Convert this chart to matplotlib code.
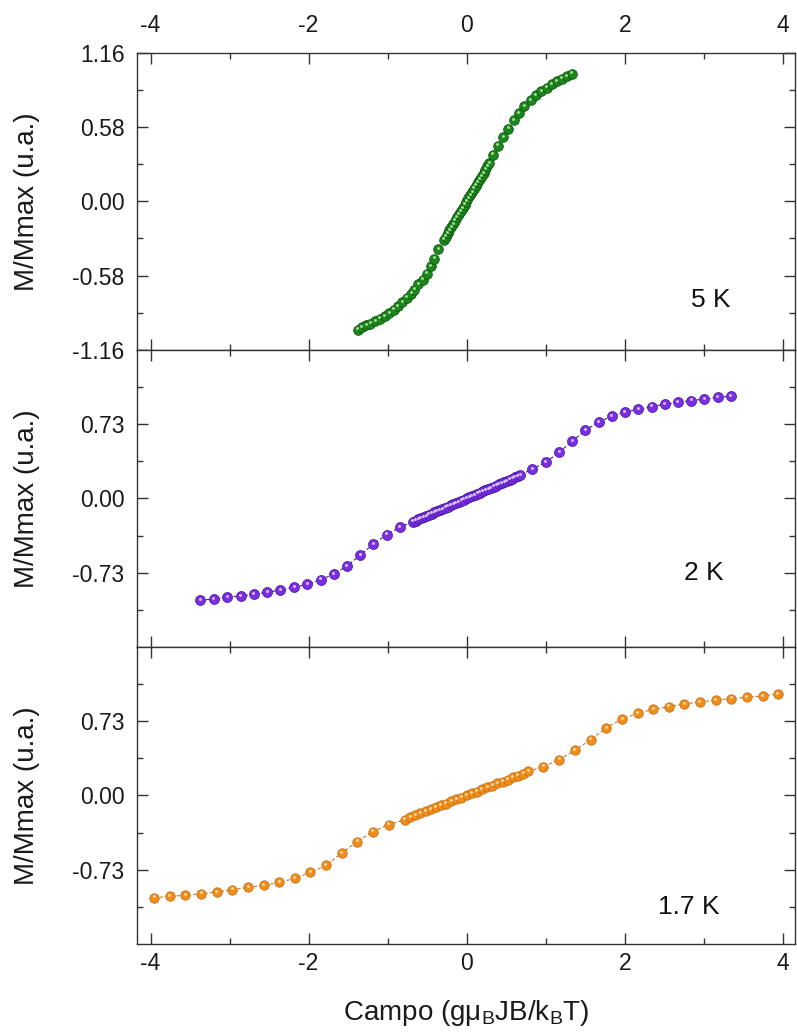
import matplotlib
matplotlib.use("Agg")
import matplotlib.pyplot as plt
from matplotlib.transforms import offset_copy
from matplotlib.ticker import FixedLocator, MultipleLocator, FormatStrFormatter

plt.rcParams['font.family'] = ['Liberation Sans', 'DejaVu Sans']
plt.rcParams['mathtext.fontset'] = 'custom'
plt.rcParams['mathtext.rm'] = 'Liberation Sans'
plt.rcParams['axes.unicode_minus'] = False

# ---- data: normalised magnetisation vs reduced field ----
x_5K = [-1.378, -1.324, -1.269, -1.219, -1.156, -1.101, -1.038, -0.979, -0.925, -0.870,
        -0.815, -0.757, -0.702, -0.660, -0.610, -0.555, -0.505, -0.450, -0.408, -0.358,
        -0.290, -0.266, -0.242, -0.218, -0.194, -0.170, -0.146, -0.122, -0.098, -0.074,
        -0.050, -0.026, -0.002, 0.022, 0.046, 0.070, 0.094, 0.118, 0.142, 0.166,
        0.190, 0.214, 0.238, 0.262, 0.286,
        0.334, 0.394, 0.464, 0.528, 0.593, 0.663, 0.728, 0.809, 0.873, 0.943,
        1.013, 1.078, 1.143, 1.202, 1.267, 1.332]
y_5K = [-1.003, -0.982, -0.969, -0.956, -0.938, -0.917, -0.896, -0.872, -0.846, -0.820,
        -0.786, -0.753, -0.721, -0.690, -0.648, -0.612, -0.565, -0.505, -0.448, -0.372,
        -0.300, -0.276, -0.251, -0.226, -0.201, -0.176, -0.151, -0.126, -0.101, -0.077,
        -0.052, -0.027, -0.002, 0.023, 0.048, 0.073, 0.098, 0.123, 0.148, 0.173,
        0.198, 0.222, 0.247, 0.272, 0.297,
        0.365, 0.435, 0.503, 0.568, 0.633, 0.690, 0.742, 0.789, 0.828, 0.862,
        0.888, 0.914, 0.938, 0.958, 0.977, 0.997]

x_2K = [-3.369, -3.197, -3.030, -2.857, -2.690, -2.523, -2.356, -2.183, -2.016, -1.849,
        -1.682, -1.515, -1.348, -1.181, -1.013, -0.846,
        -0.680, -0.646, -0.612, -0.578, -0.544, -0.510, -0.476, -0.442, -0.408, -0.374,
        -0.340, -0.306, -0.272, -0.238, -0.204, -0.170, -0.136, -0.102, -0.068, -0.034,
        0.000, 0.034, 0.068, 0.102, 0.136, 0.170, 0.204, 0.238, 0.272, 0.306,
        0.340, 0.374, 0.408, 0.442, 0.476, 0.510, 0.544, 0.578, 0.612, 0.646, 0.680,
        0.830, 1.003, 1.170, 1.337, 1.504, 1.671, 1.838, 2.005, 2.172, 2.340,
        2.507, 2.674, 2.841, 3.008, 3.175, 3.342]
y_2K = [-0.998, -0.992, -0.972, -0.959, -0.943, -0.923, -0.900, -0.874, -0.845, -0.799,
        -0.746, -0.664, -0.560, -0.448, -0.357, -0.285,
        -0.229, -0.218, -0.206, -0.195, -0.183, -0.172, -0.160, -0.149, -0.137, -0.126,
        -0.115, -0.103, -0.092, -0.080, -0.069, -0.057, -0.046, -0.034, -0.023, -0.011,
        0.000, 0.011, 0.023, 0.034, 0.046, 0.057, 0.069, 0.080, 0.092, 0.103,
        0.115, 0.126, 0.137, 0.149, 0.160, 0.172, 0.183, 0.195, 0.206, 0.218, 0.229,
        0.288, 0.357, 0.452, 0.563, 0.671, 0.750, 0.809, 0.848, 0.874, 0.903,
        0.923, 0.943, 0.962, 0.975, 0.992, 1.005]

x_17K = [-3.951, -3.757, -3.558, -3.358, -3.159, -2.965, -2.765, -2.566, -2.372, -2.173,
         -1.978, -1.779, -1.580, -1.385, -1.186, -0.987, -0.782,
         -0.715, -0.650, -0.585, -0.520, -0.455, -0.390, -0.325, -0.260, -0.195, -0.130,
         -0.065, 0.000, 0.065, 0.130, 0.195, 0.260, 0.325, 0.390, 0.455, 0.520,
         0.585, 0.650, 0.715, 0.780,
         0.970, 1.170, 1.369, 1.569, 1.768, 1.968, 2.167, 2.361, 2.561, 2.755,
         2.954, 3.154, 3.348, 3.547, 3.747, 3.935]
y_17K = [-1.004, -0.991, -0.981, -0.965, -0.948, -0.926, -0.903, -0.883, -0.854, -0.815,
         -0.756, -0.688, -0.564, -0.453, -0.355, -0.287, -0.238,
         -0.216, -0.196, -0.177, -0.157, -0.137, -0.118, -0.098, -0.079, -0.059, -0.039,
         -0.020, 0.000, 0.020, 0.039, 0.059, 0.079, 0.098, 0.118, 0.137, 0.157,
         0.177, 0.196, 0.216, 0.236,
         0.284, 0.352, 0.443, 0.548, 0.665, 0.753, 0.808, 0.847, 0.874, 0.900,
         0.919, 0.939, 0.952, 0.965, 0.978, 0.997]

temp_labels = ['5 K', '2 K', '1.7 K']
x_ticks = [-4, -2, 0, 2, 4]
y_ticks_top = [-1.16, -0.58, 0.00, 0.58, 1.16]
y_minor_top = [-0.87, -0.29, 0.29, 0.87]
y_ticks_low = [-0.73, 0.00, 0.73]
y_minor_low = [-1.095, -0.365, 0.365, 1.095]

fig = plt.figure(figsize=(7.97, 10.34), dpi=100)
axes = fig.subplots(3, 1, sharex=True)
fig.subplots_adjust(left=0.172, right=0.997, top=0.949, bottom=0.087, hspace=0)

# (x, y, face, edge, highlight, marker size, connecting line colour)
series = [
    (x_5K, y_5K, '#1c861c', '#0b4f0b', '#9fdc96', 7.0, None),
    (x_2K, y_2K, '#7a2ee0', '#45169a', '#d2bcff', 7.2, '#3a2470'),
    (x_17K, y_17K, '#f18d1a', '#bf650c', '#ffdcaa', 6.8, '#c8782c'),
]
ylims = [(-1.16, 1.16), (-1.46, 1.46), (-1.46, 1.46)]
label_pos = [(3.09, -0.77), (3.0, -0.735), (2.81, -1.10)]

for i, ax in enumerate(axes):
    xs, ys, fc, ec, hl, ms, lc = series[i]
    if lc is not None:
        ax.plot(xs, ys, linestyle=(0, (3, 2)), color=lc, lw=0.8, zorder=2)
    ax.plot(xs, ys, linestyle='none', marker='o', ms=ms, mfc=fc, mec=ec,
            mew=0.5, zorder=3)
    shine = offset_copy(ax.transData, fig=fig, x=-0.6, y=1.3, units='dots')
    ax.plot(xs, ys, linestyle='none', marker='o', ms=ms * 0.3, mfc=hl,
            mec='none', transform=shine, zorder=4)

    ax.set_xlim(-4.17, 4.15)
    ax.set_ylim(*ylims[i])
    ax.xaxis.set_major_locator(FixedLocator(x_ticks))
    ax.xaxis.set_minor_locator(MultipleLocator(1))
    if i == 0:
        ax.yaxis.set_major_locator(FixedLocator(y_ticks_top))
        ax.yaxis.set_minor_locator(FixedLocator(y_minor_top))
    else:
        ax.yaxis.set_major_locator(FixedLocator(y_ticks_low))
        ax.yaxis.set_minor_locator(FixedLocator(y_minor_low))
    ax.yaxis.set_major_formatter(FormatStrFormatter('%.2f'))

    for sp in ax.spines.values():
        sp.set_linewidth(1.0)
        sp.set_color('#333333')
    ax.tick_params(which='both', direction='in', top=True, right=True,
                   color='#333333', width=1.0, labelsize=16.5, labelcolor='#1a1a1a')
    ax.tick_params(which='major', length=8)
    ax.tick_params(which='minor', length=4.5)
    ax.tick_params(axis='y', pad=9)

    ax.set_ylabel('M/Mmax (u.a.)', fontsize=20, color='#1a1a1a')
    ax.yaxis.set_label_coords(-0.147, 0.5)
    ax.text(label_pos[i][0], label_pos[i][1], temp_labels[i], fontsize=19,
            ha='center', va='center', color='#111111')

axes[0].tick_params(axis='x', labeltop=True, labelbottom=False, pad=11.5)
axes[1].tick_params(axis='x', labeltop=False, labelbottom=False)
axes[2].tick_params(axis='x', labeltop=False, labelbottom=True, pad=5.5)

axes[2].set_xlabel('Campo (gμ$_\\mathregular{B}$JB/k$_\\mathregular{B}$T)',
                   fontsize=20, color='#1a1a1a')
axes[2].xaxis.set_label_coords(0.5, -0.18)

fig.savefig('out.png', dpi=100, facecolor='white')
